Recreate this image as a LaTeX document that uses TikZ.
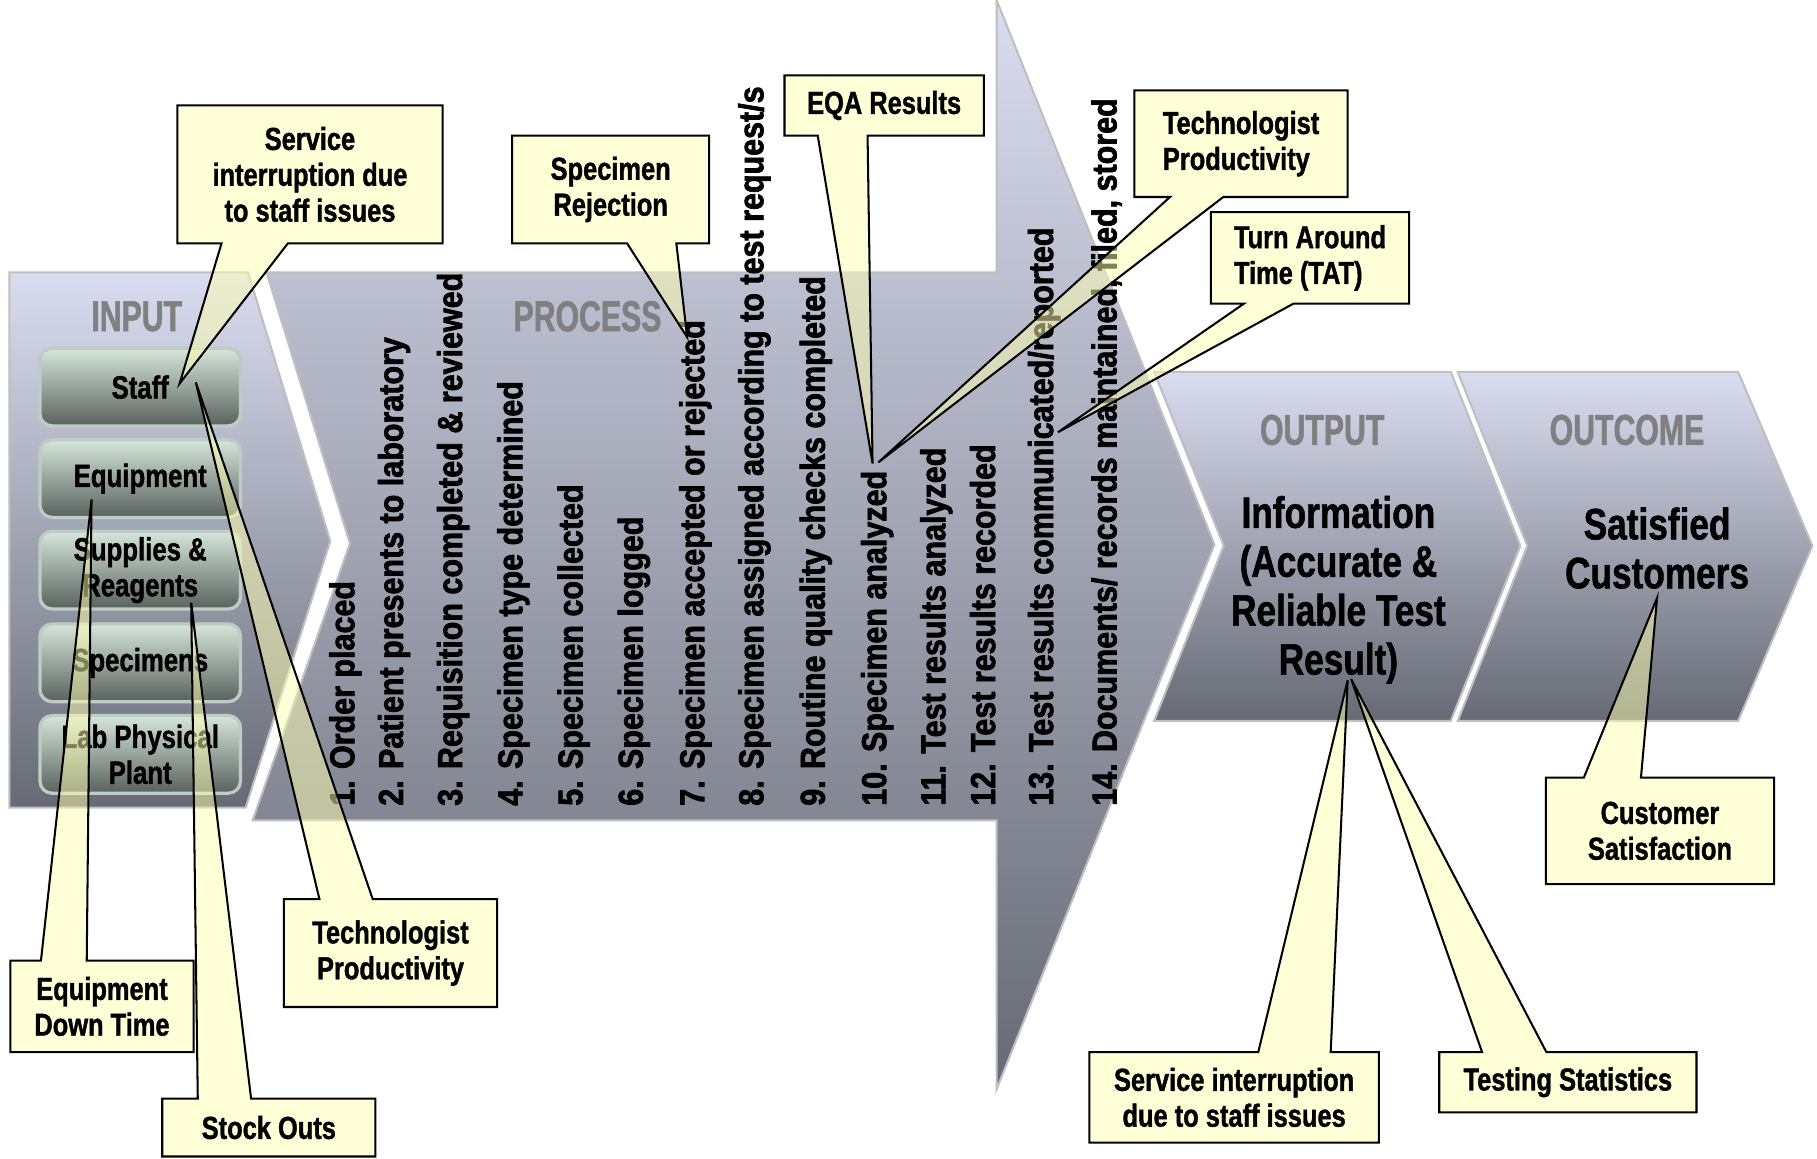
\documentclass[tikz,border=0pt]{standalone}
\usepackage{fontspec}
\setmainfont{Liberation Sans}
\newfontfamily\narrowfont{Liberation Sans}[FakeStretch=0.8, FakeBold=1.2]
\newfontfamily\titlefont{Liberation Sans}[FakeStretch=0.7, FakeBold=1.2]
\newfontfamily\heavyfont{Liberation Sans}[FakeStretch=0.88, FakeBold=2]
\usetikzlibrary{calc,fit}
\definecolor{paneltop}{RGB}{217,221,240}
\definecolor{panelbot}{RGB}{102,106,116}
\definecolor{itemtop}{RGB}{214,230,218}
\definecolor{itembot}{RGB}{88,98,94}
\definecolor{itemedge}{RGB}{190,205,195}
\definecolor{balloonfill}{RGB}{255,255,176}
\definecolor{titlegray}{RGB}{128,128,128}
\begin{document}
\begin{tikzpicture}
[x=0.01cm, y=-0.01cm,
 paneldecorate/.style={top color=paneltop, bottom color=panelbot, draw=black!25, line width=0.5pt},
 itemdecorate/.style={rectangle, rounded corners=3pt, top color=itemtop, bottom color=itembot,
   draw=itemedge, line width=0.8pt, minimum width=17.3mm, minimum height=6.7mm, inner sep=0pt,
   align=center, font=\narrowfont\bfseries\fontsize{7.9}{8.8}\selectfont},
 titledecorate/.style={text=titlegray, inner sep=0pt, font=\titlefont\bfseries\fontsize{10.6}{12}\selectfont},
 stepdecorate/.style={rotate=90, anchor=west, inner sep=0pt, font=\heavyfont\bfseries\fontsize{8.5}{9}\selectfont},
 bodydecorate/.style={align=center, inner sep=0pt, font=\narrowfont\bfseries\fontsize{10.8}{12}\selectfont},
 boxdecorate/.style={inner sep=0pt, outer sep=0pt},
 balloondecorate/.style={fill=balloonfill, fill opacity=0.5, draw=black, line width=0.5pt},
 labeldecorate/.style={inner sep=0pt, font=\narrowfont\bfseries\fontsize{7.8}{8.8}\selectfont}]
\useasboundingbox (0,0) rectangle (1568,1000);
\fill[white] (0,0) rectangle (1568,1000);
%% chevrons
\path[paneldecorate] (8,235) -- (214,235) -- (285,467) -- (212,697) -- (8,697) -- cycle;
\path[paneldecorate] (230,235) -- (860,235) -- (860,0) -- (1048,470) -- (860,940)
  -- (860,708) -- (218,708) -- (302,469) -- cycle;
\path[paneldecorate] (996,321) -- (1252,321) -- (1312,471) -- (1252,622) -- (996,622) -- (1056,471) -- cycle;
\path[paneldecorate] (1258,321) -- (1500,321) -- (1564,471) -- (1500,622) -- (1258,622) -- (1318,471) -- cycle;
%% titles
\node[titledecorate] (inputtitle) at (118,273) {INPUT};
\node[titledecorate] (processtitle) at (507,273) {PROCESS};
\node[titledecorate] (outputtitle) at (1141,371) {OUTPUT};
\node[titledecorate] (outcometitle) at (1404,371) {OUTCOME};
%% inputs
\foreach \nodename/\y/\txt in {staff/334/Staff, equipment/413/Equipment,
  supplies/492/{Supplies \&\\Reagents}, specimens/572/Specimens, plant/651/{Lab Physical\\Plant}}
{
  \node[itemdecorate] (\nodename) at (121,\y) {\txt};
}
%% process steps
\foreach \x/\txt [count=\i] in {
  298/{1. Order placed}, 340/{2. Patient presents to laboratory},
  391/{3. Requisition completed \& reviewed}, 443/{4. Specimen type determined},
  495/{5. Specimen collected}, 547/{6. Specimen logged},
  600/{7. Specimen accepted or rejected}, 651/{8. Specimen assigned according to test request/s},
  704/{9. Routine quality checks completed}, 757/{10. Specimen analyzed},
  808/{11. Test results analyzed}, 848/{12. Test results recorded},
  901/{13. Test results communicated/reported}, 955/{14. Documents/ records maintained, filed, stored}}
{
  \node[stepdecorate] (step\i) at (\x,696) {\txt};
}
%% output and outcome
\node[bodydecorate] (information) at (1155,509) {Information\\(Accurate \&\\Reliable Test\\Result)};
\node[bodydecorate] (customers) at (1430,473) {Satisfied\\Customers};
%% callouts pointing down
\foreach \nodename/\xa/\ya/\xb/\yb/\tx/\ty/\fa/\fb/\al/\txt in {
  servicetop/153/91/382/210/155/331/0.1667/0.4167/center/{Service\\interruption due\\to staff issues},
  rejection/442/117/612/210/593/291/0.5833/0.8333/center/{Specimen\\Rejection},
  eqa/677/65/849/117/753/400/0.1667/0.4167/center/{EQA Results},
  techtop/979/78/1163/170/758/399/0.1667/0.4167/left/{Technologist\\Productivity},
  tat/1045/183/1216/262/913/373/0.1667/0.4167/left/{Turn Around\\Time (TAT)}}
{
  \node[boxdecorate, fit={(\xa,\ya) (\xb,\yb)}] (\nodename) {};
  \coordinate (\nodename-tip) at (\tx,\ty);
  \draw[balloondecorate] (\nodename.north west) -- (\nodename.north east) -- (\nodename.south east)
    -- ($(\nodename.south west)!\fb!(\nodename.south east)$) -- (\nodename-tip)
    -- ($(\nodename.south west)!\fa!(\nodename.south east)$) -- (\nodename.south west) -- cycle;
  \node[labeldecorate, align=\al] (\nodename-label) at (\nodename.center) {\txt};
}
%% callouts pointing up
\foreach \nodename/\xa/\ya/\xb/\yb/\tx/\ty/\fa/\fb/\txt in {
  techbottom/245/776/429/869/169/330/0.1667/0.4167/{Technologist\\Productivity},
  downtime/9/829/167/908/79/431/0.1667/0.4167/{Equipment\\Down Time},
  stockouts/140/948/324/998/165/520/0.1667/0.4167/{Stock Outs},
  servicebottom/940/908/1190/986/1163/587/0.5833/0.8333/{Service interruption\\due to staff issues},
  statistics/1242/908/1464/960/1166/586/0.1667/0.4167/{Testing Statistics},
  satisfaction/1334/671/1531/763/1430/516/0.1667/0.4167/{Customer\\Satisfaction}}
{
  \node[boxdecorate, fit={(\xa,\ya) (\xb,\yb)}] (\nodename) {};
  \coordinate (\nodename-tip) at (\tx,\ty);
  \draw[balloondecorate] (\nodename.north west)
    -- ($(\nodename.north west)!\fa!(\nodename.north east)$) -- (\nodename-tip)
    -- ($(\nodename.north west)!\fb!(\nodename.north east)$) -- (\nodename.north east)
    -- (\nodename.south east) -- (\nodename.south west) -- cycle;
  \node[labeldecorate, align=center] (\nodename-label) at (\nodename.center) {\txt};
}
\end{tikzpicture}
\end{document}
